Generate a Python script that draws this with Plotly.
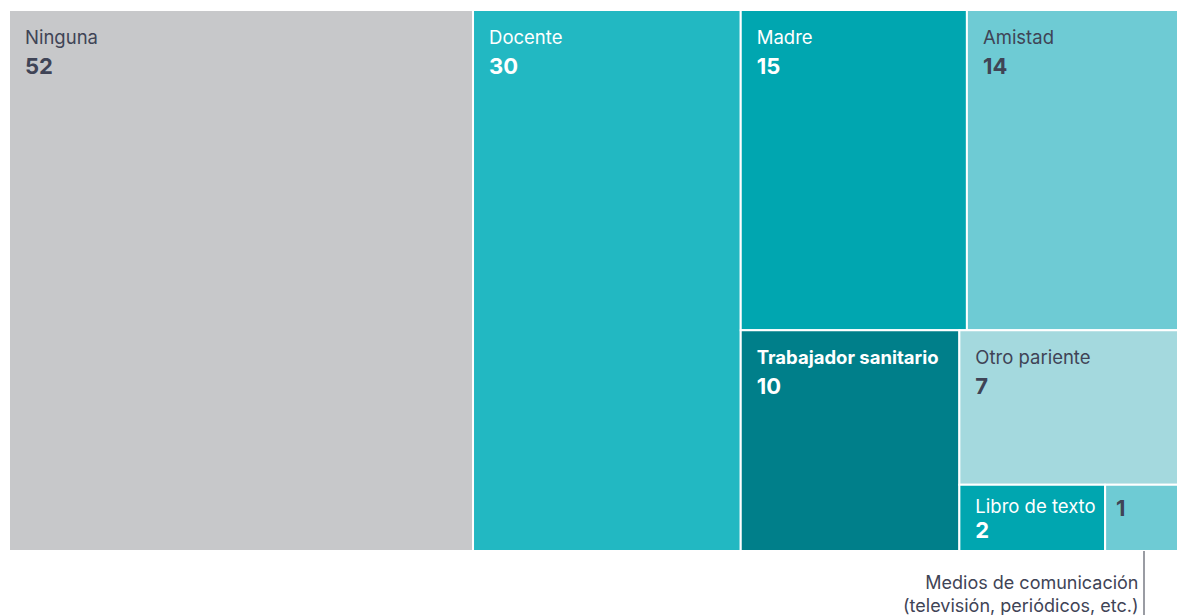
import plotly.graph_objects as go

# Fuente de información sobre el tema (número de respuestas)
categorias = ["Ninguna", "Docente", "Madre", "Amistad", "Trabajador sanitario",
              "Otro pariente", "Libro de texto",
              "Medios de comunicación (televisión, periódicos, etc.)"]
valores = [52, 30, 15, 14, 10, 7, 2, 1]
colores = ["#c7c8ca", "#22b8c2", "#00a6b0", "#6ecbd4", "#007f8a",
           "#a4d9de", "#00a6b0", "#6ecbd4"]
color_texto = ["#3f4456", "#ffffff", "#ffffff", "#3f4456", "#ffffff",
               "#3f4456", "#ffffff", "#3f4456"]
# tamaño base de cada rótulo: fija el interlineado entre nombre y valor
tamano_base = [23, 23, 23, 23, 23, 23, 19, 21]

SANGRIA = "<span style='font-size:13px'>\u2003</span>"
ARRIBA = "<span style='font-size:1px'>\u00a0</span><br>"


def etiqueta(cat, val):
    if cat.startswith("Medios"):
        # casilla demasiado pequeña: sólo el valor, explicado fuera del rectángulo
        return (f"{ARRIBA}<span style='font-size:8px'>\u2003</span>"
                f"<b><span style='font-size:22px'>{val}</span></b>")
    nombre = f"<b>{cat}</b>" if cat == "Trabajador sanitario" else cat
    return (f"{ARRIBA}{SANGRIA}<span style='font-size:18.5px'>{nombre}</span><br>"
            f"{SANGRIA}<b><span style='font-size:22px'>{val}</span></b>")


textos = [etiqueta(c, v) for c, v in zip(categorias, valores)]

fig = go.Figure(go.Treemap(
    labels=categorias,
    parents=[""] * len(categorias),
    values=valores,
    text=textos,
    texttemplate="%{text}",
    textposition="top left",
    textfont=dict(family="Inter", size=tamano_base, color=color_texto),
    marker=dict(colors=colores, line=dict(color="#ffffff", width=2),
                pad=dict(t=0, l=0, r=0, b=0)),
    tiling=dict(packing="squarify", squarifyratio=1, pad=0),
    pathbar=dict(visible=False),
    sort=True,
    hoverinfo="label+value",
))

# Llamada para la categoría más pequeña
fig.add_shape(type="line", xref="paper", yref="paper",
              x0=0.9709, x1=0.9709, y0=0, y1=-0.13,
              line=dict(color="#9a9ca3", width=2))
fig.add_annotation(xref="paper", yref="paper", x=0.9675, y=-0.035,
                   xanchor="right", yanchor="top", align="right", showarrow=False,
                   text="Medios de comunicación<br>(televisión, periódicos, etc.)",
                   font=dict(family="Inter", size=18, color="#3f4456"))

fig.update_layout(
    width=1178, height=615,
    margin=dict(l=9, r=0, t=10, b=64),
    paper_bgcolor="#ffffff",
)

fig.write_html("out.html")
